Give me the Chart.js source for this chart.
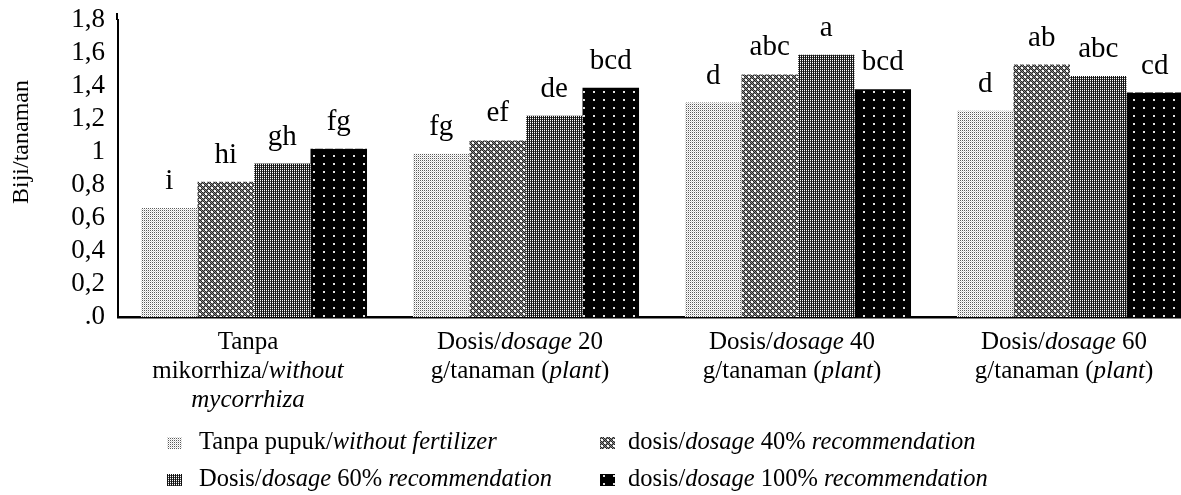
<!DOCTYPE html>
<html><head><meta charset="utf-8">
<script src="https://cdn.jsdelivr.net/npm/chart.js@4.4.1/dist/chart.umd.min.js"></script>
<style>html,body{margin:0;padding:0;background:#fff;overflow:hidden;width:1181px;height:495px}canvas{display:block}</style>
</head><body>
<canvas id="c" width="1208" height="495" style="width:1208px;height:495px"></canvas>
<script>
// ---- data (underscores toggle italic) ----
const categories = [
  ["Tanpa", "mikorrhiza/_without_", "_mycorrhiza_"],
  ["Dosis/_dosage_ 20", "g/tanaman (_plant_)"],
  ["Dosis/_dosage_ 40", "g/tanaman (_plant_)"],
  ["Dosis/_dosage_ 60", "g/tanaman (_plant_)"]
];
const seriesNames = [
  "Tanpa pupuk/_without fertilizer_",
  "dosis/_dosage_ 40% _recommendation_",
  "Dosis/_dosage_ 60% _recommendation_",
  "dosis/_dosage_ 100% _recommendation_"
];
const tanpaPupuk = [0.66, 0.99, 1.30, 1.25];
const dosis40    = [0.82, 1.07, 1.47, 1.53];
const dosis60    = [0.93, 1.22, 1.59, 1.46];
const dosis100   = [1.02, 1.39, 1.38, 1.36];
const lettersTanpa = ["i", "fg", "d", "d"];
const letters40    = ["hi", "ef", "abc", "ab"];
const letters60    = ["gh", "de", "a", "abc"];
const letters100   = ["fg", "bcd", "bcd", "cd"];
const yTickLabels = [".0", "0,2", "0,4", "0,6", "0,8", "1", "1,2", "1,4", "1,6", "1,8"];
const yTitle = "Biji/tanaman";

const seriesValues = [tanpaPupuk, dosis40, dosis60, dosis100];
const seriesLetters = [lettersTanpa, letters40, letters60, letters100];

// ---- patterns ----
const canvas = document.getElementById('c');
const ctx0 = canvas.getContext('2d');
function makePattern(w, h, bg, dots) {
  const c = document.createElement('canvas');
  c.width = w; c.height = h;
  const x = c.getContext('2d');
  x.fillStyle = bg; x.fillRect(0, 0, w, h);
  dots.forEach(d => { x.fillStyle = d[4]; x.fillRect(d[0], d[1], d[2], d[3]); });
  return ctx0.createPattern(c, 'repeat');
}
function checkerTile() {
  const dots = [];
  for (let y = 0; y < 6; y++) for (let x = 0; x < 6; x++) {
    const hole = (x >= 1 && x <= 2 && y >= 1 && y <= 2) || (x >= 4 && y >= 4);
    if (hole) continue;
    dots.push([x, y, 1, 1, (x + y) % 2 === 0 ? '#262626' : '#8c8c8c']);
  }
  return makePattern(6, 6, '#fff', dots);
}
const patterns = [
  makePattern(2, 2, '#fff', [[0, 0, 1, 1, '#5a5a5a'], [1, 1, 1, 1, '#d6d6d6']]),
  checkerTile(),
  makePattern(2, 2, '#111', [[0, 0, 1, 1, '#ffffff'], [0, 1, 1, 1, '#555555']]),
  makePattern(10, 8, '#000', [[3, 3, 2, 2, '#e0e0e0']])
];

const FONT = "'Liberation Serif', 'Times New Roman', serif";

function drawRich(ctx, str, x, y, align, size) {
  const parts = str.split('_');
  const segs = parts.map((t, i) => ({ t, it: i % 2 === 1 })).filter(s => s.t.length);
  let total = 0;
  segs.forEach(s => { ctx.font = (s.it ? 'italic ' : '') + size + 'px ' + FONT; s.w = ctx.measureText(s.t).width; total += s.w; });
  let cx = align === 'center' ? x - total / 2 : x;
  ctx.textAlign = 'left';
  segs.forEach(s => { ctx.font = (s.it ? 'italic ' : '') + size + 'px ' + FONT; ctx.fillText(s.t, cx, y); cx += s.w; });
}

const extras = {
  id: 'extras',
  afterDraw(chart) {
    const ctx = chart.ctx;
    const xs = chart.scales.x;
    const area = chart.chartArea;
    ctx.save();
    // extend y axis line slightly above the top like the original
    ctx.strokeStyle = '#000';
    ctx.lineWidth = 2;
    ctx.beginPath();
    ctx.moveTo(area.left - 1, area.top);
    ctx.lineTo(area.left - 1, area.top - 7);
    ctx.stroke();
    ctx.fillStyle = '#000';
    // letters above bars
    ctx.textBaseline = 'alphabetic';
    ctx.textAlign = 'center';
    ctx.font = '29px ' + FONT;
    chart.data.datasets.forEach((ds, di) => {
      chart.getDatasetMeta(di).data.forEach((bar, i) => {
        ctx.fillText(seriesLetters[di][i], bar.x, bar.y - 19);
      });
    });
    // category labels
    ctx.textBaseline = 'middle';
    categories.forEach((lines, i) => {
      const cx = xs.getPixelForValue(i) - 6;
      lines.forEach((ln, j) => drawRich(ctx, ln, cx, 342 + j * 29, 'center', 25));
    });
    // legend
    const mx = [167, 600], tx = [199, 628], ly = [443, 480];
    seriesNames.forEach((name, i) => {
      const col = i % 2, row = Math.floor(i / 2);
      ctx.fillStyle = patterns[i];
      ctx.fillRect(mx[col], ly[row] - 6, 15, 12);
      ctx.fillStyle = '#000';
      drawRich(ctx, name, tx[col], ly[row], 'left', 24.5);
    });
    // y title
    ctx.translate(22, 142);
    ctx.rotate(-Math.PI / 2);
    ctx.textAlign = 'center';
    ctx.font = '24px ' + FONT;
    ctx.fillText(yTitle, 0, 0);
    ctx.restore();
  }
};

new Chart(canvas, {
  type: 'bar',
  data: {
    labels: categories.map(c => c.join(' ').replace(/_/g, '')),
    datasets: seriesValues.map((vals, i) => ({
      label: seriesNames[i].replace(/_/g, ''),
      data: vals,
      backgroundColor: patterns[i],
      borderWidth: 0,
      categoryPercentage: 0.831,
      barPercentage: 1.0
    }))
  },
  options: {
    responsive: false,
    animation: false,
    layout: { autoPadding: false, padding: { left: 0, right: 2, top: 20, bottom: 178 } },
    plugins: { legend: { display: false }, tooltip: { enabled: false } },
    scales: {
      x: {
        grid: { display: false, drawTicks: false },
        border: { display: true, color: '#000', width: 2.5 },
        ticks: { display: false },
        afterFit: s => { s.height = 0; s.paddingLeft = 0; s.paddingRight = 0; }
      },
      y: {
        min: 0, max: 1.8,
        grid: { display: false, drawTicks: false },
        border: { display: true, color: '#000', width: 2 },
        ticks: {
          stepSize: 0.2, padding: 13, color: '#000', autoSkip: false,
          font: { family: FONT, size: 27 },
          callback: (v, i) => yTickLabels[i]
        },
        afterFit: s => { s.width = 118; s.paddingTop = 0; s.paddingBottom = 0; }
      }
    }
  },
  plugins: [extras]
});
</script>
</body></html>
